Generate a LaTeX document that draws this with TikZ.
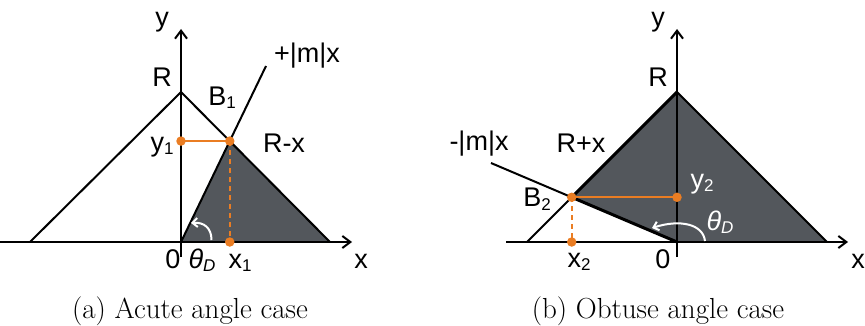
\documentclass[tikz,border=0pt]{standalone}
\usepackage{fontspec}
\newfontfamily\lab{Liberation Sans}
\usetikzlibrary{arrows.meta}
\definecolor{shadecol}{RGB}{83,87,92}
\definecolor{org}{RGB}{234,125,35}
\newcommand{\sbs}[1]{\raisebox{-3pt}{\fontsize{17}{17}\selectfont #1}}
\begin{document}
\begin{tikzpicture}[x=1pt,y=-1pt,
  axis/.style={line width=2pt,-{Straight Barb[length=8pt,width=12pt]}},
  edge/.style={line width=2pt},
  boldedge/.style={line width=3pt},
  lbl/.style={font=\lab\fontsize{27}{27}\selectfont, anchor=base, inner sep=0pt},
  captext/.style={font=\fontsize{29}{33}\selectfont, anchor=base, inner sep=0pt},
  dot/.style={circle, fill=org, inner sep=0pt, minimum size=9.5pt},
  oline/.style={org, line width=2pt},
  odash/.style={org, line width=2pt, dash pattern=on 5pt off 4pt},
  wa/.style={white, line width=2pt, -{Straight Barb[length=5pt,width=9pt]}}
]
\useasboundingbox (0,0) rectangle (865,326);
% ---------- left ----------
\coordinate (O1) at (181,242);
\coordinate (A1) at (181,92);
\coordinate (L1) at (30,242);
\coordinate (Rb1) at (330,242);
\coordinate (M1) at (266,66);
\coordinate (B1) at (intersection of O1--M1 and A1--Rb1);
\coordinate (Y1) at (O1 |- B1);
\coordinate (X1) at (B1 |- O1);
\coordinate (xs1) at (0,242);
\coordinate (xe1) at (352,242);
\coordinate (ys1) at (181,257);
\coordinate (ye1) at (181,29);
\fill[shadecol] (O1) -- (B1) -- (Rb1) -- cycle;
\draw[edge] (L1) -- (A1) -- (Rb1);
\draw[edge] (O1) -- (M1);
\draw[axis] (xs1) -- (xe1);
\draw[axis] (ys1) -- (ye1);
\draw[oline] (Y1) -- (B1);
\draw[odash] (B1) -- (X1);
\node[dot] (d1a) at (Y1) {};
\node[dot] (d1b) at (B1) {};
\node[dot] (d1c) at (X1) {};
\coordinate (t1s) at (211.5,240);
\coordinate (t1e) at (191,223);
\draw[wa] (t1s) .. controls (211.5,228) and (204,222) .. (t1e);
\node[lbl] (ly1) at (162,27) {y};
\node[lbl] (lR1) at (162,87) {R};
\node[lbl] (lB1) at (222,106) {B\sbs{1}};
\node[lbl] (lm1) at (307,63) {+|m|x};
\node[lbl] (lyy1) at (162,152) {y\sbs{1}};
\node[lbl] (lRx) at (284,153) {R-x};
\node[lbl] (l01) at (173,268) {0};
\node[lbl] (lth1) at (202,268) {\itshape θ\sbs{D}};
\node[lbl] (lx11) at (240,268) {x\sbs{1}};
\node[lbl] (lx1) at (361,268) {x};
\node[captext] (capa) at (190,318) {(a) Acute angle case};
% ---------- right ----------
\coordinate (O2) at (677,242);
\coordinate (A2) at (677,92);
\coordinate (L2) at (527,242);
\coordinate (Rb2) at (827,242);
\coordinate (M2) at (491,163);
\coordinate (B2) at (intersection of O2--M2 and L2--A2);
\coordinate (Y2) at (O2 |- B2);
\coordinate (X2) at (B2 |- O2);
\coordinate (xs2) at (506,242);
\coordinate (xe2) at (848,242);
\coordinate (ys2) at (677,257);
\coordinate (ye2) at (677,29);
\fill[shadecol] (B2) -- (A2) -- (Rb2) -- (O2) -- cycle;
\draw[edge] (L2) -- (B2);
\draw[boldedge] (B2) -- (A2);
\draw[edge] (A2) -- (Rb2);
\draw[edge] (M2) -- (B2);
\draw[boldedge] (B2) -- (O2);
\draw[axis] (xs2) -- (xe2);
\draw[axis] (ys2) -- (ye2);
\draw[oline] (B2) -- (Y2);
\draw[odash] (B2) -- (X2);
\node[dot] (d2a) at (B2) {};
\node[dot] (d2b) at (Y2) {};
\node[dot] (d2c) at (X2) {};
\coordinate (t2s) at (705,241);
\coordinate (t2e) at (652,228);
\draw[wa] (t2s) .. controls (703,224) and (680,219) .. (t2e);
\node[lbl] (ly2) at (658,27) {y};
\node[lbl] (lR2) at (658,87) {R};
\node[lbl] (lm2) at (479,151) {-|m|x};
\node[lbl] (lRpx) at (581,153) {R+x};
\node[lbl] (lB2) at (537,207) {B\sbs{2}};
\node[lbl, white] (lyy2) at (702,189) {y\sbs{2}};
\node[lbl, white] (lth2) at (720,230) {\itshape θ\sbs{D}};
\node[lbl] (lx22) at (579,267) {x\sbs{2}};
\node[lbl] (l02) at (663,268) {0};
\node[lbl] (lx2) at (858,268) {x};
\node[captext] (capb) at (658,318) {(b) Obtuse angle case};
\end{tikzpicture}
\end{document}
